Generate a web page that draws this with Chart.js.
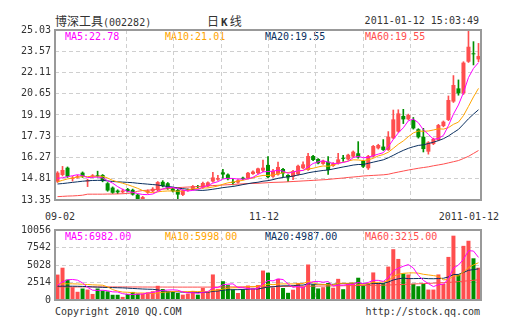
<!DOCTYPE html>
<html>
<head>
<meta charset="utf-8">
<script src="https://cdn.jsdelivr.net/npm/chart.js@4.4.1/dist/chart.umd.min.js"></script>
<style>
  html, body { margin: 0; padding: 0; background: #fff; }
  #wrap { position: relative; width: 505px; height: 330px; overflow: hidden; background: #fff; }
  #wrap canvas { position: absolute; left: 0; }
  .t { position: absolute; font: 10px "DejaVu Sans Mono", monospace; color: #333; white-space: nowrap; line-height: 12px; }
  .cn { font-family: "Noto Sans CJK SC", sans-serif; font-size: 12px; }
</style>
</head>
<body>
<div id="wrap">
  <div class="t" style="left:55px; top:14px; line-height:14px;"><span class="cn">博深工具</span>(002282)</div>
  <div class="t" style="left:207px; top:14px; line-height:14px;"><span class="cn">日</span><b style="margin:0 2px 0 2px;font-size:11px;">K</b><span class="cn">线</span></div>
  <div class="t" style="right:26px; top:15px;">2011-01-12 15:03:49</div>

  <div class="t" style="left:65px; top:31px; color:#ff00ff;">MA5:22.78</div>
  <div class="t" style="left:165px; top:31px; color:#ffa500;">MA10:21.01</div>
  <div class="t" style="left:265px; top:31px; color:#0b3060;">MA20:19.55</div>
  <div class="t" style="left:365px; top:31px; color:#ff4e4e;">MA60:19.55</div>

  <div class="t" id="d0" style="left:45px; top:211px;"></div>
  <div class="t" id="d1" style="left:249px; top:211px;"></div>
  <div class="t" id="d2" style="right:6px; top:211px;"></div>

  <div class="t" style="left:65px; top:231px; color:#ff00ff;">MA5:6982.00</div>
  <div class="t" style="left:165px; top:231px; color:#ffa500;">MA10:5998.00</div>
  <div class="t" style="left:265px; top:231px; color:#0b3060;">MA20:4987.00</div>
  <div class="t" style="left:365px; top:231px; color:#ff4e4e;">MA60:3215.00</div>

  <div class="t" style="left:55px; top:306px;">Copyright 2010 QQ.COM</div>
  <div class="t" style="right:25px; top:306px;">http://stock.qq.com</div>

  <canvas id="price" width="505" height="190" style="top:20px"></canvas>
  <canvas id="volume" width="505" height="90" style="top:220px"></canvas>
</div>
<script>
// trading days shown on the chart
const dates = [
  '09-02','09-03','09-06','09-07','09-08','09-09','09-10','09-13','09-14','09-15',
  '09-16','09-17','09-20','09-21','09-27','09-28','09-29','09-30','10-11','10-12',
  '10-13','10-14','10-15','10-18','10-19','10-20','10-21','10-22','10-25','10-26',
  '10-27','10-28','10-29','11-01','11-02','11-03','11-04','11-05','11-08','11-09',
  '11-10','11-11','11-12','11-15','11-16','11-17','11-18','11-19','11-22','11-23',
  '11-24','11-25','11-26','11-29','11-30','12-01','12-02','12-03','12-06','12-07',
  '12-08','12-09','12-10','12-13','12-14','12-15','12-16','12-17','12-20','12-21',
  '12-22','12-23','12-24','12-27','12-28','12-29','12-30','12-31','01-04','01-05',
  '01-06','01-07','01-10','01-11','01-12'
];

const opens = [
  14.61,15.07,15.57,14.80,14.90,15.23,14.62,14.98,15.05,15.07,
  14.50,14.20,14.00,13.88,14.10,14.05,13.72,13.38,13.85,13.95,
  14.02,14.60,14.50,14.15,14.04,13.70,14.00,14.10,14.30,14.20,
  14.30,14.62,14.75,15.25,15.10,14.60,14.55,14.88,14.85,15.14,
  15.20,15.37,15.76,14.95,15.10,15.48,15.07,14.95,15.11,15.53,
  15.41,16.37,16.17,15.83,15.98,15.69,15.87,16.22,16.14,16.33,
  16.56,16.03,15.53,16.33,16.90,17.02,16.79,17.59,18.05,19.12,
  18.89,18.85,18.21,17.70,16.67,17.20,17.47,18.43,18.85,20.11,
  21.02,20.68,22.85,23.40,23.01
];
const highs = [
  15.30,15.66,15.62,14.97,15.05,15.28,14.78,15.10,15.33,15.10,
  14.55,14.25,14.05,14.10,14.15,14.10,13.75,13.60,14.05,14.20,
  14.62,14.68,14.55,14.20,14.08,14.05,14.12,14.35,14.35,14.58,
  14.60,15.25,15.05,15.46,15.15,14.84,14.75,14.92,15.25,15.35,
  15.55,16.10,16.33,15.45,15.95,15.52,15.10,15.38,15.75,15.98,
  16.56,16.42,16.20,16.10,16.33,15.92,16.56,16.42,16.50,16.72,
  17.36,16.08,16.42,17.10,17.18,17.50,18.05,19.53,19.55,19.58,
  19.25,19.02,18.25,18.27,17.36,17.60,18.55,18.78,20.50,21.90,
  21.60,22.85,25.03,24.23,24.11
];
const lows = [
  14.55,15.00,14.90,14.65,14.85,14.90,14.27,14.90,14.92,14.60,
  13.95,13.80,13.78,13.82,13.90,13.68,13.38,13.35,13.80,13.90,
  13.98,14.25,14.08,13.90,13.35,13.65,13.95,14.05,14.20,14.15,
  14.25,14.58,14.70,14.84,14.73,14.38,14.50,14.75,14.80,15.10,
  15.15,15.30,14.88,14.90,15.05,14.95,14.61,14.75,15.05,15.50,
  15.38,16.05,15.83,15.80,15.10,15.65,15.82,16.00,16.10,16.28,
  16.22,15.58,15.45,16.30,16.85,16.75,16.75,17.55,18.00,18.60,
  18.85,18.22,17.60,16.65,16.50,17.15,17.42,18.38,18.80,20.05,
  20.55,20.60,22.80,22.63,22.85
];
const closes = [
  15.23,15.41,14.95,14.88,14.98,14.95,14.70,15.05,14.98,14.65,
  14.00,13.85,13.88,14.00,13.95,13.72,13.42,13.55,13.98,14.12,
  14.58,14.30,14.12,13.95,13.72,14.00,14.06,14.31,14.24,14.52,
  14.56,14.90,14.85,15.10,14.78,14.52,14.70,14.80,15.22,15.30,
  15.52,15.57,14.92,15.35,15.62,15.18,14.90,15.34,15.70,15.80,
  16.37,16.10,15.87,16.05,15.41,15.87,16.14,16.18,16.46,16.67,
  16.28,15.64,16.37,17.06,17.13,16.79,17.70,18.89,19.30,18.89,
  19.19,18.27,17.66,16.85,17.31,17.54,18.50,18.73,20.22,21.25,
  20.68,22.79,23.88,23.36,23.24
];

const ma5 = [
  14.84,14.88,14.95,15.02,15.09,15.03,14.89,14.91,14.93,14.87,
  14.68,14.51,14.27,14.08,13.94,13.88,13.79,13.73,13.72,13.76,
  13.93,14.11,14.22,14.21,14.13,14.02,13.97,14.01,14.07,14.23,
  14.34,14.51,14.61,14.79,14.84,14.83,14.79,14.78,14.80,14.91,
  15.11,15.28,15.31,15.33,15.40,15.33,15.19,15.28,15.35,15.38,
  15.62,15.86,15.97,16.04,15.96,15.86,15.87,15.93,16.01,16.26,
  16.35,16.25,16.28,16.40,16.50,16.60,17.01,17.51,17.96,18.31,
  18.79,18.91,18.66,18.17,17.86,17.53,17.57,17.79,18.46,19.25,
  19.88,20.73,21.76,22.39,22.79
];
const ma10 = [
  14.60,14.70,14.80,14.86,14.92,14.95,14.96,14.97,14.98,14.98,
  14.86,14.70,14.59,14.50,14.40,14.28,14.15,14.00,13.90,13.85,
  13.91,13.95,13.97,13.97,13.95,13.97,14.04,14.11,14.14,14.18,
  14.18,14.24,14.31,14.43,14.53,14.58,14.65,14.70,14.80,14.87,
  14.97,15.04,15.04,15.07,15.15,15.22,15.24,15.29,15.34,15.39,
  15.48,15.53,15.62,15.69,15.67,15.74,15.87,15.95,16.03,16.11,
  16.10,16.06,16.11,16.21,16.38,16.47,16.63,16.90,17.18,17.41,
  17.70,17.96,18.09,18.07,18.09,18.16,18.24,18.22,18.32,18.55,
  18.70,19.15,19.78,20.43,21.02
];
const ma20 = [
  14.45,14.48,14.52,14.56,14.60,14.64,14.67,14.69,14.70,14.70,
  14.66,14.62,14.60,14.58,14.56,14.54,14.50,14.47,14.44,14.41,
  14.38,14.32,14.28,14.24,14.17,14.13,14.09,14.06,14.02,14.01,
  14.04,14.09,14.14,14.20,14.24,14.28,14.34,14.41,14.47,14.53,
  14.57,14.64,14.68,14.75,14.84,14.90,14.94,14.99,15.07,15.13,
  15.22,15.28,15.33,15.38,15.41,15.48,15.55,15.62,15.68,15.75,
  15.79,15.79,15.87,15.95,16.03,16.11,16.25,16.42,16.60,16.76,
  16.90,17.01,17.10,17.14,17.23,17.32,17.43,17.56,17.75,17.98,
  18.20,18.56,18.93,19.25,19.55
];
const ma60 = [
  13.58,13.60,13.62,13.63,13.65,13.68,13.75,13.75,13.75,13.75,
  13.76,13.76,13.77,13.78,13.80,13.85,13.95,14.00,14.02,14.05,
  14.08,14.10,14.12,14.18,14.20,14.22,14.24,14.25,14.27,14.30,
  14.32,14.34,14.36,14.38,14.40,14.42,14.44,14.46,14.48,14.49,
  14.50,14.52,14.54,14.56,14.57,14.58,14.60,14.62,14.64,14.66,
  14.68,14.70,14.72,14.74,14.76,14.80,14.83,14.86,14.90,14.93,
  14.96,15.00,15.02,15.04,15.06,15.08,15.12,15.20,15.27,15.34,
  15.41,15.47,15.53,15.58,15.63,15.70,15.76,15.82,15.90,15.98,
  16.06,16.20,16.35,16.55,16.75
];

const vols = [
  3650,4640,2930,1840,1180,1650,1500,870,1650,1350,
  1240,750,750,450,870,1160,920,920,1100,1260,
  2040,1580,1160,1260,1010,770,920,1300,770,1740,
  1260,3670,1600,2700,2130,1500,1010,1500,2080,1650,
  2150,4230,3930,1790,3040,1720,1030,1480,2450,1900,
  5100,2250,1660,1840,2450,1760,3040,1550,2420,2420,
  3200,2130,2420,3960,2420,2420,4800,7300,5900,3800,
  3670,2320,1980,2320,1500,1500,3670,2320,6190,9240,
  3670,7780,8510,5990,4640
];
const vma5 = [
  2130,2600,2900,2950,2848,2448,1820,1408,1370,1404,
  1322,1172,1148,908,812,796,830,864,994,1072,
  1248,1380,1428,1460,1410,1156,1024,1052,954,1100,
  1198,1748,1808,2194,2272,2320,1788,1768,1644,1548,
  1678,2322,2808,2750,3028,2942,2302,1812,1944,1716,
  2392,2636,2672,2550,2660,1992,2150,2128,2244,2238,
  2526,2344,2518,2826,2826,2670,3204,4180,4568,4844,
  5094,4598,3534,2818,2358,1924,2194,2262,3036,4584,
  5018,5840,7078,7038,6118
];
const vma10 = [
  2300,2320,2330,2320,2300,2260,2220,2180,2150,2126,
  1885,1496,1278,1139,1108,1059,1001,1006,951,942,
  1022,1105,1146,1227,1241,1202,1202,1240,1207,1255,
  1177,1386,1430,1574,1686,1759,1768,1788,1919,1910,
  1999,2055,2288,2197,2288,2310,2312,2310,2347,2372,
  2667,2469,2242,2247,2188,2192,2393,2400,2397,2449,
  2259,2247,2323,2535,2532,2598,2774,3349,3697,3835,
  3882,3901,3857,3693,3601,3509,3396,2898,2927,3471,
  3471,4017,4670,5037,5351
];
const vma20 = [
  1980,1980,1980,1980,1970,1950,1920,1880,1850,1820,
  1800,1780,1760,1740,1700,1660,1620,1580,1550,1534,
  1454,1301,1212,1183,1175,1131,1102,1123,1079,1099,
  1100,1246,1288,1401,1464,1481,1485,1514,1563,1583,
  1588,1721,1859,1886,1987,2035,2040,2049,2133,2141,
  2333,2262,2265,2222,2238,2251,2353,2355,2372,2411,
  2463,2358,2283,2391,2360,2395,2584,2875,3047,3142,
  3071,3074,3090,3114,3067,3054,3085,3124,3312,3653,
  3677,3959,4264,4365,4476
];
const vma60 = [
  1880,1880,1880,1880,1880,1880,1880,1880,1880,1880,
  1880,1880,1875,1875,1870,1870,1870,1865,1865,1860,
  1860,1860,1855,1855,1850,1850,1850,1850,1850,1850,
  1855,1860,1865,1870,1875,1880,1885,1890,1895,1900,
  1905,1910,1920,1930,1940,1950,1955,1960,1965,1970,
  1980,1990,2000,2010,2020,2030,2040,2050,2060,2070,
  2080,2090,2100,2110,2120,2130,2150,2180,2210,2240,
  2270,2300,2330,2360,2390,2420,2450,2480,2520,2580,
  2640,2700,2760,2830,2900
];

const priceTicks = [13.35, 14.81, 16.27, 17.73, 19.19, 20.65, 22.11, 23.57, 25.03];
const volTicks = [0, 2514, 5028, 7542, 10056];
const vGridTicks = [1, 2, 3, 4, 5, 6, 7];   // vertical divisions of the plot (8 columns)

const RED = '#ff4e4e', GREEN = '#009000';
const C5 = '#ff00ff', C10 = '#ffa500', C20 = '#0b3060', C60 = '#ff4e4e';
const GRID = '#cfcfcf';
const tickFont = { family: 'DejaVu Sans Mono', size: 10 };

const candleColor = closes.map((c, i) => (c >= opens[i] ? RED : GREEN));

document.getElementById('d0').textContent = dates[0];
document.getElementById('d1').textContent = dates[42];
document.getElementById('d2').textContent = '2011-' + dates[dates.length - 1];

// dashed column lines from the hidden 0..8 scale, and the grey frame
const frame = {
  id: 'frame',
  beforeDatasetsDraw(chart) {
    const { ctx, chartArea: a } = chart;
    const xg = chart.scales.xg;
    ctx.save();
    ctx.strokeStyle = GRID;
    ctx.lineWidth = 1;
    ctx.setLineDash([4, 3]);
    vGridTicks.forEach(k => {
      const x = Math.round(xg.getPixelForValue(k)) + 0.5;
      ctx.beginPath();
      ctx.moveTo(x, a.top);
      ctx.lineTo(x, a.bottom);
      ctx.stroke();
    });
    ctx.restore();
  },
  afterDraw(chart) {
    const { ctx, chartArea: a } = chart;
    ctx.save();
    ctx.strokeStyle = '#999';
    ctx.lineWidth = 2;
    ctx.strokeRect(a.left, a.top, a.right - a.left, a.bottom - a.top);
    ctx.restore();
  }
};

function lineDs(label, data, color, order) {
  return { type: 'line', label, data, borderColor: color, borderWidth: 1, pointRadius: 0,
           tension: 0, fill: false, order, xAxisID: 'x', yAxisID: 'y' };
}

function scalesFor(min, max, ticks, fmt) {
  return {
    x: { type: 'category', display: false, offset: true },
    xg: { type: 'linear', axis: 'x', position: 'bottom', min: 0, max: 8, display: false },
    y: {
      position: 'left', min, max,
      afterBuildTicks: s => { s.ticks = ticks.map(v => ({ value: v })); },
      afterFit: s => { s.width = 55; },
      ticks: { font: tickFont, color: '#333', padding: 4, callback: fmt },
      grid: { color: GRID, drawTicks: false },
      border: { display: false, dash: [4, 3] }
    }
  };
}

const common = {
  responsive: false,
  animation: false,
  layout: { padding: { top: 10, bottom: 10, left: 0, right: 24 } },
  plugins: { legend: { display: false }, tooltip: { enabled: false } }
};

new Chart(document.getElementById('price'), {
  type: 'bar',
  data: {
    labels: dates,
    datasets: [
      lineDs('MA5', ma5, C5, 0),
      lineDs('MA10', ma10, C10, 1),
      lineDs('MA20', ma20, C20, 2),
      lineDs('MA60', ma60, C60, 3),
      { label: 'body', data: dates.map((d, i) => [opens[i], closes[i]]), backgroundColor: candleColor,
        barPercentage: 0.8, categoryPercentage: 1, grouped: false, minBarLength: 1, order: 5 },
      { label: 'wick', data: dates.map((d, i) => [lows[i], highs[i]]), backgroundColor: candleColor,
        barThickness: 1, grouped: false, order: 6 }
    ]
  },
  options: { ...common, scales: scalesFor(13.35, 25.03, priceTicks, v => Number(v).toFixed(2)) },
  plugins: [frame]
});

new Chart(document.getElementById('volume'), {
  type: 'bar',
  data: {
    labels: dates,
    datasets: [
      lineDs('MA5', vma5, C5, 0),
      lineDs('MA10', vma10, C10, 1),
      lineDs('MA20', vma20, C20, 2),
      lineDs('MA60', vma60, C60, 3),
      { label: 'vol', data: vols, backgroundColor: candleColor,
        barPercentage: 0.8, categoryPercentage: 1, order: 5 }
    ]
  },
  options: { ...common, scales: scalesFor(0, 10056, volTicks, v => String(v)) },
  plugins: [frame]
});
</script>
</body>
</html>
